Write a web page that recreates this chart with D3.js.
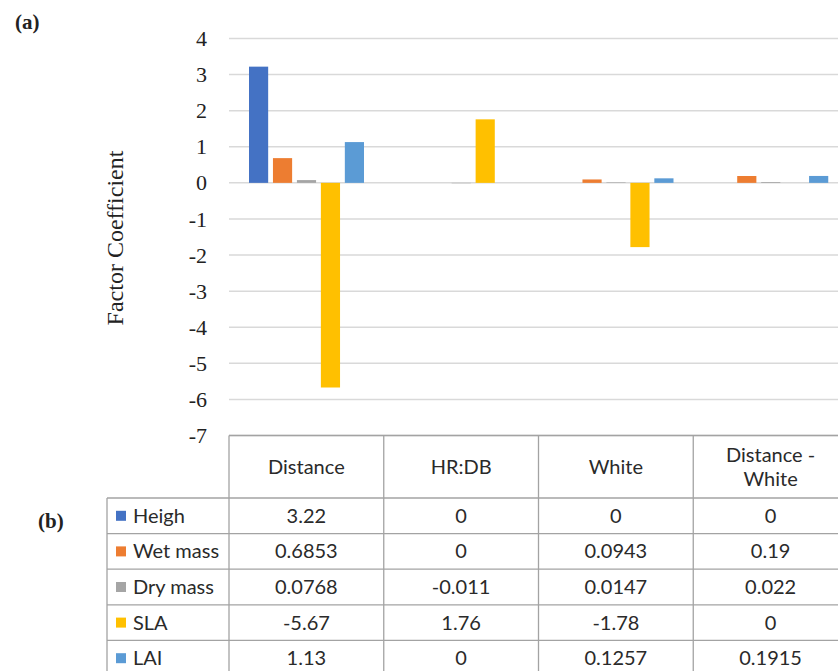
<!DOCTYPE html>
<html>
<head>
<meta charset="utf-8">
<script src="https://cdn.jsdelivr.net/npm/d3@7"></script>
<style>
  body { margin: 0; background: #fff; }
  svg { display: block; }
</style>
</head>
<body>
<div id="chart"></div>
<script>
// data
var categories = ["Distance", "HR:DB", "White", "Distance - White"];
var headerLines = [["Distance"], ["HR:DB"], ["White"], ["Distance -", "White"]];
var seriesNames = ["Heigh", "Wet mass", "Dry mass", "SLA", "LAI"];
var seriesColors = ["#4472C4", "#ED7D31", "#A5A5A5", "#FFC000", "#5B9BD5"];
var heighVals = [3.22, 0, 0, 0];
var wetMassVals = [0.6853, 0, 0.0943, 0.19];
var dryMassVals = [0.0768, -0.011, 0.0147, 0.022];
var slaVals = [-5.67, 1.76, -1.78, 0];
var laiVals = [1.13, 0, 0.1257, 0.1915];
var yTicks = [4, 3, 2, 1, 0, -1, -2, -3, -4, -5, -6, -7];

var allSeries = [heighVals, wetMassVals, dryMassVals, slaVals, laiVals];

var width = 838, height = 671;
var svg = d3.select("#chart").append("svg")
    .attr("width", width)
    .attr("height", height);

var plotLeft = 229, plotRight = 848;
var y = d3.scaleLinear().domain([-7, 4]).range([435.5, 38.5]);

var x0 = d3.scaleBand()
    .domain(categories)
    .range([plotLeft, plotRight]);

var x1 = d3.scaleBand()
    .domain(seriesNames)
    .range([20, 135])
    .paddingInner(0.2);

// gridlines
svg.append("g")
    .selectAll("line")
    .data(yTicks)
    .enter()
    .append("line")
    .attr("x1", plotLeft)
    .attr("x2", width)
    .attr("y1", function(d) { return y(d); })
    .attr("y2", function(d) { return y(d); })
    .attr("stroke", "#d9d9d9")
    .attr("stroke-width", 1.5);

// y axis labels (plain hyphen like the original)
var yAxis = d3.axisLeft(y)
    .tickValues(yTicks)
    .tickSize(0)
    .tickPadding(0)
    .tickFormat(function(d) { return String(d); });
var yg = svg.append("g")
    .attr("transform", "translate(207,0)")
    .call(yAxis);
yg.select(".domain").remove();
yg.selectAll("text")
    .attr("font-family", "'Liberation Serif', serif")
    .attr("font-size", 22)
    .attr("fill", "#222");

svg.append("text")
    .attr("transform", "translate(123,238) rotate(-90)")
    .attr("text-anchor", "middle")
    .attr("font-family", "'Liberation Serif', serif")
    .attr("font-size", 24)
    .attr("fill", "#222")
    .text("Factor Coefficient");

// bars
var groups = svg.append("g")
    .selectAll("g")
    .data(categories)
    .enter()
    .append("g")
    .attr("transform", function(d) { return "translate(" + x0(d) + ",0)"; });

groups.selectAll("rect")
    .data(function(d, ci) {
        return seriesNames.map(function(s, si) {
            return {name: s, value: allSeries[si][ci], color: seriesColors[si]};
        });
    })
    .enter()
    .append("rect")
    .attr("x", function(d) { return x1(d.name); })
    .attr("width", x1.bandwidth())
    .attr("y", function(d) { return y(Math.max(0, d.value)); })
    .attr("height", function(d) { return Math.abs(y(d.value) - y(0)); })
    .attr("fill", function(d) { return d.color; });

// data table
var tableTop = y(-7), headerH = 62.5, rowH = 35.6;
var legendLeft = 107;
var border = "#a3a3a3";
var tfont = "Lato, 'Open Sans', sans-serif";
var tsize = 20;
var table = svg.append("g");

table.append("line")
    .attr("x1", plotLeft).attr("x2", width)
    .attr("y1", tableTop).attr("y2", tableTop)
    .attr("stroke", border).attr("stroke-width", 1.3);

d3.range(seriesNames.length + 1).forEach(function(i) {
    var yy = tableTop + headerH + i * rowH;
    table.append("line")
        .attr("x1", legendLeft).attr("x2", width)
        .attr("y1", yy).attr("y2", yy)
        .attr("stroke", border).attr("stroke-width", 1.3);
});

table.append("line")
    .attr("x1", legendLeft).attr("x2", legendLeft)
    .attr("y1", tableTop + headerH).attr("y2", height)
    .attr("stroke", border).attr("stroke-width", 1.3);
categories.forEach(function(c) {
    table.append("line")
        .attr("x1", x0(c)).attr("x2", x0(c))
        .attr("y1", tableTop).attr("y2", height)
        .attr("stroke", border).attr("stroke-width", 1.3);
});

categories.forEach(function(c, i) {
    var lines = headerLines[i];
    var cy = tableTop + headerH / 2;
    lines.forEach(function(l, li) {
        table.append("text")
            .attr("x", x0(c) + x0.bandwidth() / 2)
            .attr("y", cy + (li - (lines.length - 1) / 2) * 24)
            .attr("dy", "0.35em")
            .attr("text-anchor", "middle")
            .attr("font-family", tfont)
            .attr("font-size", tsize)
            .attr("fill", "#2a2a2a")
            .text(l);
    });
});

seriesNames.forEach(function(s, si) {
    var cy = tableTop + headerH + si * rowH + rowH / 2;
    table.append("rect")
        .attr("x", 116).attr("y", cy - 5)
        .attr("width", 10).attr("height", 10)
        .attr("fill", seriesColors[si]);
    table.append("text")
        .attr("x", 133).attr("y", cy)
        .attr("dy", "0.35em")
        .attr("font-family", tfont)
        .attr("font-size", tsize)
        .attr("fill", "#2a2a2a")
        .text(s);
    categories.forEach(function(c, ci) {
        table.append("text")
            .attr("x", x0(c) + x0.bandwidth() / 2)
            .attr("y", cy)
            .attr("dy", "0.35em")
            .attr("text-anchor", "middle")
            .attr("font-family", tfont)
            .attr("font-size", tsize)
            .attr("fill", "#2a2a2a")
            .text(allSeries[si][ci]);
    });
});

// panel labels
svg.append("text")
    .attr("x", 15).attr("y", 29)
    .attr("font-family", "'Liberation Serif', serif")
    .attr("font-weight", "bold")
    .attr("font-size", 21)
    .attr("fill", "#222")
    .text("(a)");
svg.append("text")
    .attr("x", 38).attr("y", 528)
    .attr("font-family", "'Liberation Serif', serif")
    .attr("font-weight", "bold")
    .attr("font-size", 21)
    .attr("fill", "#222")
    .text("(b)");
</script>
</body>
</html>
